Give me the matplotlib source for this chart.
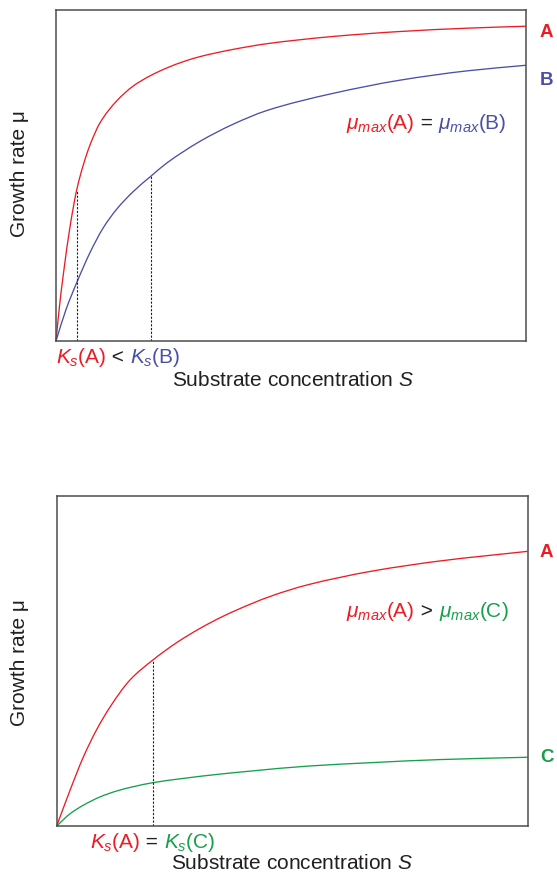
import matplotlib
matplotlib.use("Agg")
import matplotlib.pyplot as plt
from matplotlib.path import Path
from matplotlib.patches import PathPatch

# ---------------- data (S in arbitrary units 0-100, mu normalised 0-1) ----------------
top_S_A = [0, 0.74, 1.55, 2.98, 4.40, 5.81, 7.23, 9.36, 12.9, 16.4, 20.0, 23.6, 27.1,
           30.6, 37.7, 44.8, 58.9, 73.2, 87.4, 100]
top_mu_A = [0, 0.105, 0.200, 0.345, 0.456, 0.532, 0.592, 0.659, 0.725, 0.770, 0.801,
            0.825, 0.844, 0.859, 0.881, 0.898, 0.920, 0.935, 0.945, 0.951]

top_S_B = [0, 2.13, 4.40, 7.23, 10.06, 12.9, 16.4, 20.2, 23.6, 27.1, 30.6, 37.7, 44.8,
           58.9, 73.2, 87.4, 100]
top_mu_B = [0, 0.095, 0.176, 0.267, 0.342, 0.398, 0.451, 0.498, 0.538, 0.572, 0.603,
            0.655, 0.696, 0.748, 0.788, 0.816, 0.833]

bot_S_A = [0, 2.83, 5.67, 8.50, 11.33, 15.58, 20.4, 25.5, 30.45, 35.4, 41.1, 46.0,
           53.1, 67.3, 81.45, 100]
bot_mu_A = [0, 0.108, 0.209, 0.292, 0.360, 0.442, 0.502, 0.555, 0.598, 0.635, 0.671,
            0.698, 0.729, 0.772, 0.802, 0.831]

bot_S_C = [0, 2.83, 5.67, 9.20, 12.75, 16.3, 20.4, 26.9, 34.0, 41.1, 53.1, 67.3, 81.45, 100]
bot_mu_C = [0, 0.037, 0.063, 0.088, 0.106, 0.119, 0.131, 0.144, 0.156, 0.166, 0.181,
            0.192, 0.201, 0.208]

top_Ks = [4.40, 20.2]          # Ks(A), Ks(B)
top_Ks_mu = [0.456, 0.498]
bot_Ks = [20.4]                # Ks(A) = Ks(C)
bot_Ks_mu = [0.502]

# ---------------- style ----------------
RED = "#ED1C24"
BLUE = "#4B4FA6"
GREEN = "#16A04A"
DARK = "#231F20"
SPINE = "#4D4D4D"
FONT = "Liberation Sans"
FS = 15

plt.rcParams["font.family"] = [FONT, "DejaVu Sans"]
plt.rcParams["mathtext.fontset"] = "custom"
plt.rcParams["mathtext.rm"] = FONT
plt.rcParams["mathtext.it"] = FONT + ":italic"
plt.rcParams["mathtext.bf"] = FONT + ":bold"

W, H = 557, 872
fig = plt.figure(figsize=(W / 100, H / 100), dpi=100)


def fx(px):
    return px / W


def fy(py):
    return 1 - py / H


def make_ax(left, top, right, bottom):
    ax = fig.add_axes([fx(left), fy(bottom), (right - left) / W, (bottom - top) / H])
    ax.set_xlim(0, 100)
    ax.set_ylim(0, 1)
    ax.set_xticks([])
    ax.set_yticks([])
    for s in ax.spines.values():
        s.set_color(SPINE)
        s.set_linewidth(1.1)
    return ax


def smooth_curve(ax, xs, ys, color, lw=0.95):
    """Draw a smooth (monotone cubic Bezier) stroke through the read points."""
    n = len(xs)
    h = [xs[i + 1] - xs[i] for i in range(n - 1)]
    d = [(ys[i + 1] - ys[i]) / h[i] for i in range(n - 1)]
    m = [0.0] * n
    m[0] = d[0]
    m[-1] = d[-1]
    for i in range(1, n - 1):
        if d[i - 1] * d[i] <= 0:
            m[i] = 0.0
        else:
            w1 = 2 * h[i] + h[i - 1]
            w2 = h[i] + 2 * h[i - 1]
            m[i] = (w1 + w2) / (w1 / d[i - 1] + w2 / d[i])
    verts = [(xs[0], ys[0])]
    codes = [Path.MOVETO]
    for i in range(n - 1):
        c1 = (xs[i] + h[i] / 3, ys[i] + m[i] * h[i] / 3)
        c2 = (xs[i + 1] - h[i] / 3, ys[i + 1] - m[i + 1] * h[i] / 3)
        verts += [c1, c2, (xs[i + 1], ys[i + 1])]
        codes += [Path.CURVE4] * 3
    ax.add_patch(PathPatch(Path(verts, codes), facecolor="none", edgecolor=color,
                           lw=lw, clip_on=False, capstyle="butt"))


ax1 = make_ax(56, 10, 526, 341)
ax2 = make_ax(56.7, 495.5, 527.5, 826)

smooth_curve(ax1, top_S_A, top_mu_A, RED)
smooth_curve(ax1, top_S_B, top_mu_B, BLUE)
for k, m in zip(top_Ks, top_Ks_mu):
    ax1.plot([k, k], [0, m], color=DARK, lw=0.8, linestyle=(0, (2.0, 1.4)))

smooth_curve(ax2, bot_S_A, bot_mu_A, RED)
smooth_curve(ax2, bot_S_C, bot_mu_C, GREEN)
for k, m in zip(bot_Ks, bot_Ks_mu):
    ax2.plot([k, k], [0, m], color=DARK, lw=0.8, linestyle=(0, (2.0, 1.4)))

renderer = fig.canvas.get_renderer()


def chain(px, py, parts, ha="left", fs=FS):
    """Place multi-coloured text pieces along one baseline (px, py in pixels)."""
    texts = []
    widths = []
    for s, c in parts:
        t = fig.text(0, fy(py), s, color=c, fontsize=fs, va="baseline", ha="left")
        texts.append(t)
        widths.append(t.get_window_extent(renderer).width)
    total = sum(widths)
    if ha == "center":
        x = px - total / 2
    elif ha == "right":
        x = px - total
    else:
        x = px
    for t, w in zip(texts, widths):
        t.set_x(fx(x))
        x += w


# axis labels
for cy in (173.5, 663):
    fig.text(fx(20), fy(cy), "Growth rate μ", rotation=90, ha="center", va="center",
             fontsize=FS, color=DARK)
fig.text(fx(293), fy(385.7), "Substrate concentration $S$", ha="center", va="baseline",
         fontsize=FS, color=DARK)
fig.text(fx(291.7), fy(869), "Substrate concentration $S$", ha="center", va="baseline",
         fontsize=FS, color=DARK)

# Ks labels
chain(56, 363, [("$K_s$(A)", RED), (" < ", DARK), ("$K_s$(B)", BLUE)])
chain(90, 848, [("$K_s$(A)", RED), (" = ", DARK), ("$K_s$(C)", GREEN)])

# mu_max labels
chain(507, 129.3, [(r"$\mu_{max}$(A)", RED), (" = ", DARK), (r"$\mu_{max}$(B)", BLUE)],
      ha="right")
chain(508.3, 617.3, [(r"$\mu_{max}$(A)", RED), (" > ", DARK), (r"$\mu_{max}$(C)", GREEN)],
      ha="right")

# curve end labels
for lab, col, py in (("A", RED, 36.7), ("B", BLUE, 85), ("A", RED, 556.7), ("C", GREEN, 761.7)):
    fig.text(fx(540), fy(py), lab, color=col, fontsize=13.5, fontweight="bold",
             va="baseline", ha="left")

fig.savefig("out.png", dpi=100)
